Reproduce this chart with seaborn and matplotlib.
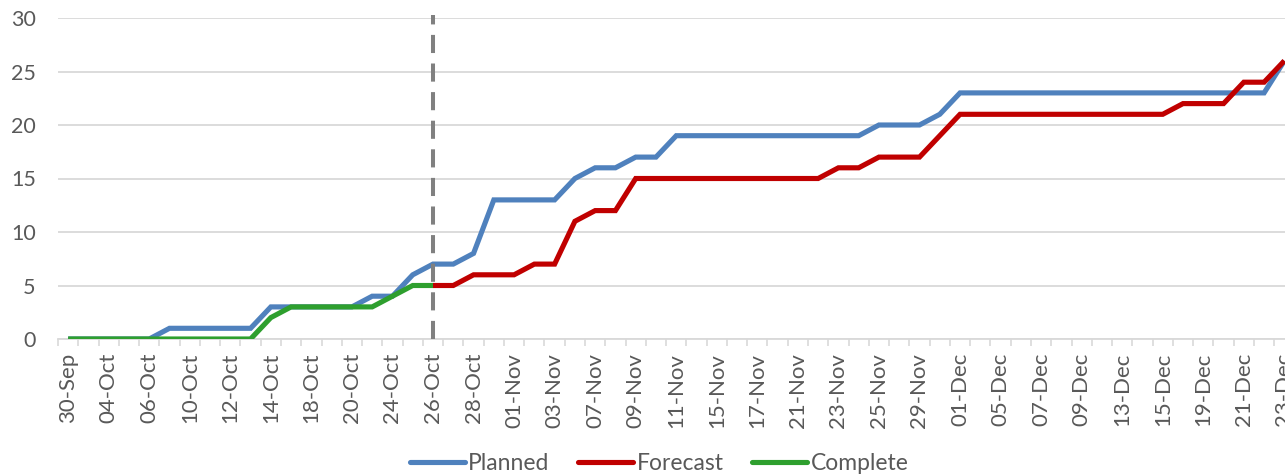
import numpy as np
import pandas as pd
import matplotlib
matplotlib.use("Agg")
import matplotlib.pyplot as plt
from matplotlib.lines import Line2D
import seaborn as sns

# Working days of the schedule
dates = [
    "30-Sep",
    "03-Oct", "04-Oct", "05-Oct", "06-Oct", "07-Oct",
    "10-Oct", "11-Oct", "12-Oct", "13-Oct", "14-Oct",
    "17-Oct", "18-Oct", "19-Oct", "20-Oct", "21-Oct",
    "24-Oct", "25-Oct", "26-Oct", "27-Oct", "28-Oct",
    "31-Oct", "01-Nov", "02-Nov", "03-Nov", "04-Nov",
    "07-Nov", "08-Nov", "09-Nov", "10-Nov", "11-Nov",
    "14-Nov", "15-Nov", "16-Nov", "17-Nov", "18-Nov",
    "21-Nov", "22-Nov", "23-Nov", "24-Nov", "25-Nov",
    "28-Nov", "29-Nov", "30-Nov", "01-Dec", "02-Dec",
    "05-Dec", "06-Dec", "07-Dec", "08-Dec", "09-Dec",
    "12-Dec", "13-Dec", "14-Dec", "15-Dec", "16-Dec",
    "19-Dec", "20-Dec", "21-Dec", "22-Dec", "23-Dec",
]

planned = [
    0, 0, 0, 0, 0, 1, 1, 1, 1, 1,
    3, 3, 3, 3, 3, 4, 4, 6, 7, 7,
    8, 13, 13, 13, 13, 15, 16, 16, 17, 17,
    19, 19, 19, 19, 19, 19, 19, 19, 19, 19,
    20, 20, 20, 21, 23, 23, 23, 23, 23, 23,
    23, 23, 23, 23, 23, 23, 23, 23, 23, 23,
    26,
]

forecast = [np.nan] * 18 + [
    5, 5, 6, 6, 6, 7, 7, 11, 12, 12,
    15, 15, 15, 15, 15, 15, 15, 15, 15, 15,
    16, 16, 17, 17, 17, 19, 21, 21, 21, 21,
    21, 21, 21, 21, 21, 21, 21, 22, 22, 22,
    24, 24, 26,
]

complete = [
    0, 0, 0, 0, 0, 0, 0, 0, 0, 0,
    2, 3, 3, 3, 3, 3, 4, 5, 5,
] + [np.nan] * 42

status_date = "26-Oct"

series_names = ["Planned", "Forecast", "Complete"]
colors = {"Planned": "#4F81BD", "Forecast": "#C00000", "Complete": "#2E9F2E"}

pos = np.arange(len(dates))
df = pd.DataFrame({
    "pos": np.tile(pos, 3),
    "value": planned + forecast + complete,
    "series": np.repeat(series_names, len(dates)),
}).dropna()

sns.set_theme(style="white")
plt.rcParams["font.family"] = ["Lato", "DejaVu Sans"]

text_color = "#595959"
grid_color = "#D9D9D9"

fig = plt.figure(figsize=(12.85, 4.75), dpi=100)
ax = fig.add_axes([58 / 1285, 136 / 475, 1236.5 / 1285, 321 / 475])

sns.lineplot(data=df, x="pos", y="value", hue="series", hue_order=series_names,
             palette=colors, linewidth=3.7, ax=ax, legend=False, zorder=3,
             solid_joinstyle="miter", solid_capstyle="butt")

# status date marker
status_idx = dates.index(status_date)
ax.plot([status_idx, status_idx], [0, 30.3], color="#808080", linewidth=2.9,
        linestyle=(0, (4.5, 2.6)), zorder=5, clip_on=False)

ax.set_xlim(-0.5, len(dates) - 0.5)
ax.set_ylim(0, 30)
ax.set_yticks(np.arange(0, 31, 5))
ax.yaxis.grid(True, color=grid_color, linewidth=1.3)
ax.set_axisbelow(True)

ax.set_xticks(pos[::2])
ax.set_xticklabels(dates[::2], rotation=90)
ax.set_xticks(np.arange(-0.5, len(dates), 1), minor=True)
ax.tick_params(axis="x", which="major", length=0, pad=10, labelsize=16,
               labelcolor=text_color)
ax.tick_params(axis="x", which="minor", length=5, width=1.2, color=grid_color,
               bottom=True)
ax.tick_params(axis="y", length=0, pad=16, labelsize=15.5, labelcolor=text_color)

ax.set_xlabel("")
ax.set_ylabel("")
for side in ["top", "right", "left"]:
    ax.spines[side].set_visible(False)
ax.spines["bottom"].set_color(grid_color)
ax.spines["bottom"].set_linewidth(1.3)

handles = [Line2D([], [], color=colors[n], linewidth=3.7, solid_capstyle="round")
           for n in series_names]
fig.legend(handles, series_names, loc="center", bbox_to_anchor=(659 / 1285, 11 / 475),
           ncol=3, frameon=False, fontsize=16.5, handlelength=2.4, handletextpad=0.15,
           columnspacing=1.25, labelcolor=text_color)

fig.savefig("out.png", dpi=100)
